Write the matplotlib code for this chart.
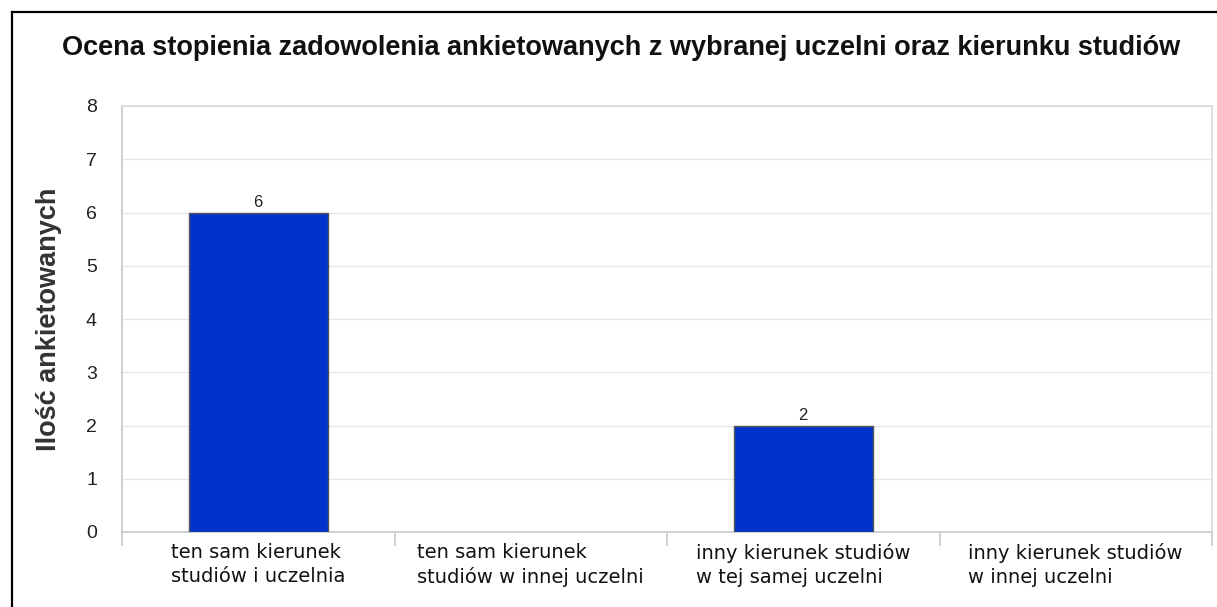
import matplotlib
matplotlib.use('Agg')
import matplotlib.pyplot as plt
import numpy as np
from matplotlib.lines import Line2D

categories = ['ten sam kierunek\nstudiów i uczelnia',
              'ten sam kierunek\nstudiów w innej uczelni',
              'inny kierunek studiów\nw tej samej uczelni',
              'inny kierunek studiów\nw innej uczelni']
values = [6, 0, 2, 0]
y_ticks = [0, 1, 2, 3, 4, 5, 6, 7, 8]

title = 'Ocena stopienia zadowolenia ankietowanych z wybranej uczelni oraz kierunku studiów'
ylabel = 'Ilość ankietowanych'

W, H = 1217, 607
fig = plt.figure(figsize=(W / 100, H / 100), dpi=100)
fig.patch.set_facecolor('white')

# frame around chart (right and bottom edges cut off in the original)
fig.add_artist(Line2D([12 / W, 12 / W], [0, 1 - 12 / H], transform=fig.transFigure,
                      color='black', linewidth=1.6))
fig.add_artist(Line2D([12 / W, 1], [1 - 12 / H, 1 - 12 / H], transform=fig.transFigure,
                      color='black', linewidth=1.6))

ax = fig.add_axes([122 / W, (H - 532) / H, (1212 - 122) / W, (532 - 106) / H])

x = np.arange(len(categories))
bars = ax.bar(x, values, width=0.51, color='#0033cc', edgecolor='#555555',
              linewidth=[1.0 if v > 0 else 0 for v in values], zorder=3)
for b, v in zip(bars, values):
    if v > 0:
        ax.text(b.get_x() + b.get_width() / 2, v + 0.04, str(v), ha='center', va='bottom',
                fontsize=12, color='#222222', family='Liberation Sans')

ax.set_xlim(-0.5, len(categories) - 0.5)
ax.set_ylim(0, 8)
ax.set_yticks(y_ticks)
ax.set_yticklabels([str(t) for t in y_ticks], fontsize=14, family='Liberation Sans',
                   color='#222222')
ax.tick_params(axis='y', length=0, pad=18)
ax.grid(axis='y', color='#e6e6e6', linewidth=1.0, zorder=0)

ax.set_xticks(x)
ax.set_xticklabels(categories, fontsize=14, family='DejaVu Sans', color='#111111',
                   multialignment='left', linespacing=1.32)
ax.set_xticks(np.arange(-0.5, len(categories)), minor=True)
ax.tick_params(axis='x', which='major', length=0, pad=8)
ax.tick_params(axis='x', which='minor', length=10, color='#c8c8c8', width=1.2)

for s in ['left', 'bottom', 'right', 'top']:
    ax.spines[s].set_color('#cccccc')
    ax.spines[s].set_linewidth(1.3)
ax.spines['right'].set_color('#dddddd')
ax.spines['top'].set_color('#dddddd')

ax.set_ylabel(ylabel, fontsize=19.5, fontweight='bold', color='#333333',
              family='Liberation Sans')
ax.yaxis.set_label_coords(-60 / 1090, 0.5)

fig.text(621 / W, 1 - 48 / H, title, ha='center', va='center', fontsize=19.5,
         fontweight='bold', family='Liberation Sans', color='#111111')

fig.savefig('out.png', dpi=100)
